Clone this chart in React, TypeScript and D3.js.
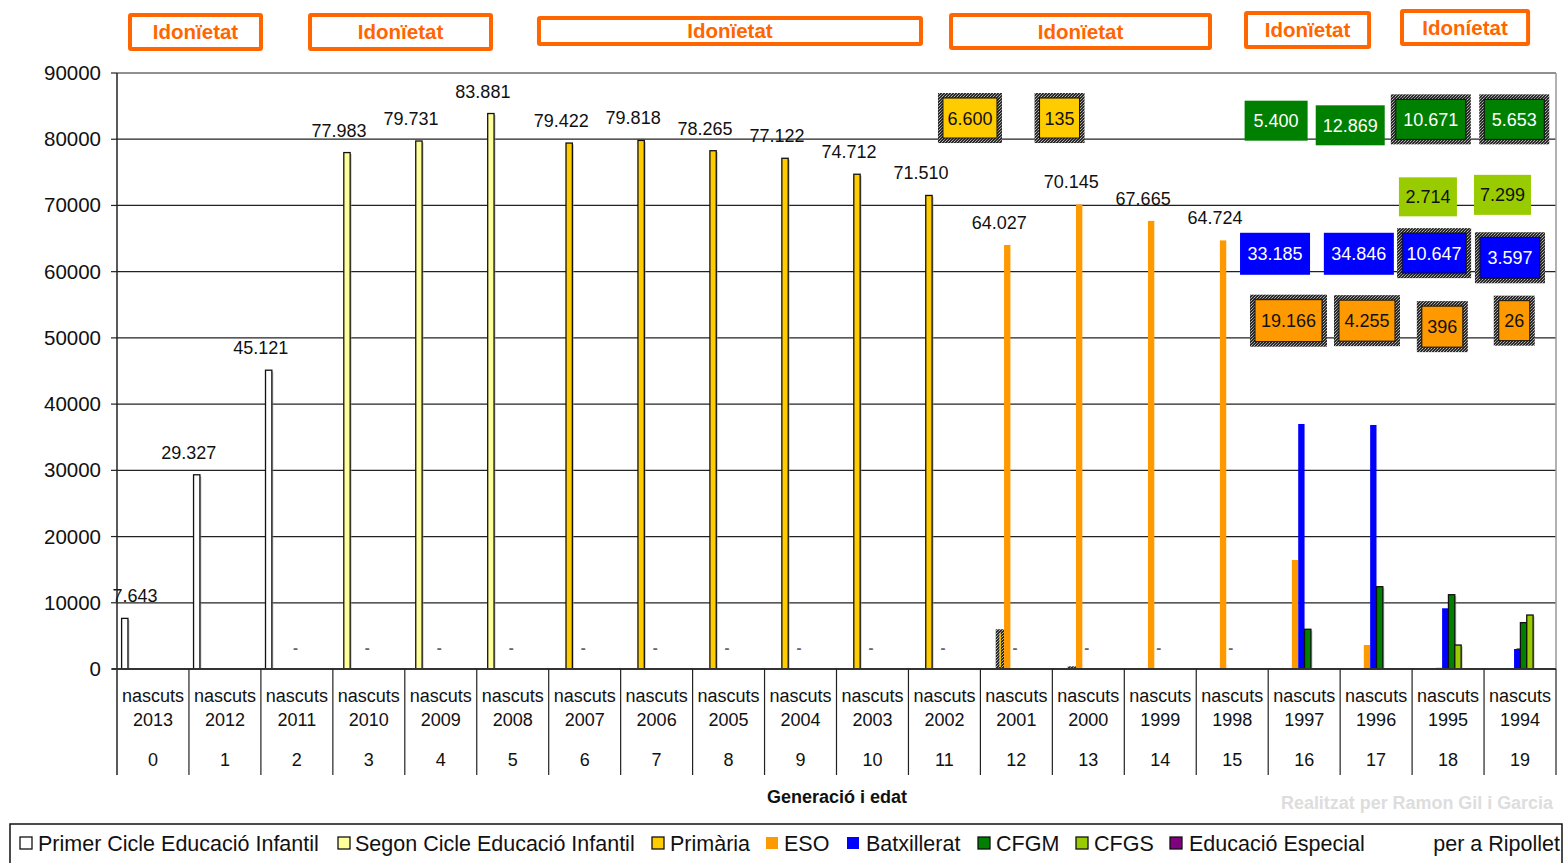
import React from 'react';
import * as d3 from 'd3';

// ---------- DATA ----------
const years = ['2013','2012','2011','2010','2009','2008','2007','2006','2005','2004','2003','2002','2001','2000','1999','1998','1997','1996','1995','1994'];
const ages = ['0','1','2','3','4','5','6','7','8','9','10','11','12','13','14','15','16','17','18','19'];
const seriesNames = ['Primer Cicle Educació Infantil','Segon Cicle Educació Infantil','Primària','ESO','Batxillerat','CFGM','CFGS','Educació Especial'];
const seriesColors = ['#FFFFFF','#FFFF99','#FFCC00','#FF9900','#0000FF','#008000','#99CC00','#800080'];
const seriesBordered = [true,true,true,false,false,true,true,true];

const primerCicle = [7643,29327,45121,0,0,0,0,0,0,0,0,0,0,0,0,0,0,0,0,0];
const segonCicle = [0,0,0,77983,79731,83881,0,0,0,0,0,0,0,0,0,0,0,0,0,0];
const primaria = [0,0,0,0,0,0,79422,79818,78265,77122,74712,71510,6000,400,0,0,0,0,0,0];
const eso = [0,0,0,0,0,0,0,0,0,0,0,0,64027,70145,67665,64724,16460,3620,200,0];
const batxillerat = [0,0,0,0,0,0,0,0,0,0,0,0,0,0,0,0,37000,36850,9170,3020];
const cfgm = [0,0,0,0,0,0,0,0,0,0,0,0,0,0,0,0,6000,12430,11220,7000];
const cfgs = [0,0,0,0,0,0,0,0,0,0,0,0,0,0,0,0,0,0,3620,8150];
const educacioEspecial = [0,0,0,0,0,0,0,0,0,0,0,0,0,0,0,0,0,0,0,0];
const seriesValues = [primerCicle, segonCicle, primaria, eso, batxillerat, cfgm, cfgs, educacioEspecial];

// categories whose Primària bar is drawn with the stippled pattern
const stippledPrimaria = [12, 13];
// categories with a value label above the tallest bar
const labelledCats = d3.range(0, 16);
// categories with a "-" (zero) label
const dashCats = d3.range(2, 20);

// annotation boxes: text, series index, stippled border, position in category units / value units
const boxTexts = ['6.600','135','5.400','12.869','10.671','5.653','2.714','7.299','33.185','34.846','10.647','3.597','19.166','4.255','396','26'];
const boxSeries = [2,2,5,5,5,5,6,6,4,4,4,4,3,3,3,3];
const boxStippled = [true,true,false,false,true,true,false,false,false,false,true,true,true,true,true,true];
const boxCatPos = [11.855,13.1,16.11,17.14,18.26,19.42,18.22,19.256,16.095,17.26,18.306,19.36,16.282,17.373,18.42,19.42];
const boxLevel = [83200,83200,82800,82100,83000,83000,71300,71600,62700,62700,62800,62100,52600,52600,51700,52600];
const boxW = [64,50,63,69,80,70,58,57,70,70,74,70,77,66,51,41];
const boxH = [50,50,40,40,50,50,39,40,42,42,50,51,52,51,51,50];

// "Idonïetat" headers spanning category ranges
const headerTexts = ['Idonïetat','Idonïetat','Idonïetat','Idonïetat','Idonïetat','Idoníetat'];
const headerFrom = [0.153,2.655,5.837,11.564,15.664,17.832];
const headerTo = [2.029,5.226,11.202,15.219,17.43,19.64];
const headerTop = [13,13,16,13,11,9];
const headerBottom = [51,51,46,50,49,46];

const yTicks = [0,10000,20000,30000,40000,50000,60000,70000,80000,90000];

// ---------- CHART ----------
const W = 1564, H = 863;
const FONT = '"Liberation Sans", Arial, sans-serif';

export default function App() {
  const x = d3.scaleBand<number>().domain(d3.range(years.length)).range([117, 1556]).padding(0);
  const bw = x.bandwidth();
  const xc = d3.scaleLinear().domain([0, years.length]).range([117, 1556]);
  const inner = d3.scaleBand<number>().domain(d3.range(seriesNames.length)).range([bw * 0.064, bw * 0.77]);
  const y = d3.scaleLinear().domain([0, 90000]).range([669, 73]);
  const fmt = d3.formatLocale({ decimal: ',', thousands: '.', grouping: [3], currency: ['', ''] }).format(',d');

  const bars: React.ReactNode[] = [];
  seriesValues.forEach((vals, s) => {
    vals.forEach((v, c) => {
      if (v <= 0) return;
      const bx = (x(c) as number) + (inner(s) as number);
      const w = inner.bandwidth();
      const top = y(v);
      const h = y(0) - top;
      const stip = s === 2 && stippledPrimaria.includes(c);
      if (stip) {
        bars.push(<rect key={`b${s}-${c}`} x={bx - 2} y={top} width={w + 2} height={h} fill="url(#stip)" />);
        bars.push(<rect key={`bi${s}-${c}`} x={bx + w / 2 - 1.5} y={top + 4} width={1.5} height={Math.max(0, h - 6)} fill={seriesColors[s]} />);
      } else {
        if (seriesBordered[s]) {
          bars.push(<rect key={`sh${s}-${c}`} x={bx + 1.5} y={top + 1.5} width={w} height={h - 1.5} fill="#999" opacity={0.6} />);
        }
        bars.push(
          <rect key={`b${s}-${c}`} x={bx} y={top} width={w} height={h}
            fill={seriesColors[s]} stroke={seriesBordered[s] ? '#111' : 'none'} strokeWidth={seriesBordered[s] ? 1.3 : 0} />
        );
      }
    });
  });

  const labels = labelledCats.map((c) => {
    let best = 0, bs = 0;
    seriesValues.forEach((vals, s) => { if (vals[c] > best) { best = vals[c]; bs = s; } });
    const cx = Math.max(xc(0) + 18, (x(c) as number) + (inner(bs) as number) + inner.bandwidth() / 2 - 8);
    return (
      <text key={`l${c}`} x={cx} y={y(best) - 16} textAnchor="middle" fontSize={18} fill="#111">{fmt(best)}</text>
    );
  });

  const legendMarkerX = [20, 338, 652, 766, 847, 978, 1076, 1170];
  const legendTextX = [38, 355, 670, 784, 866, 996, 1094, 1189];

  return (
    <svg width={W} height={H} style={{ position: 'absolute', left: 0, top: 0, background: '#fff' }} fontFamily={FONT}>
      <defs>
        <pattern id="stip" width="3" height="3" patternUnits="userSpaceOnUse">
          <rect width="3" height="3" fill="#2a2a2a" />
          <rect x="0" y="0" width="1" height="1" fill="#bbb" />
          <rect x="2" y="1" width="1" height="1" fill="#888" />
          <rect x="1" y="2" width="1" height="1" fill="#aaa" />
        </pattern>
      </defs>
      <rect width={W} height={H} fill="#fff" />

      {/* header boxes */}
      {headerTexts.map((t, i) => {
        const x0 = xc(headerFrom[i]), x1 = xc(headerTo[i]);
        const t0 = headerTop[i], t1 = headerBottom[i];
        return (
          <g key={`h${i}`}>
            <rect x={x0 + 2} y={t0 + 2} width={x1 - x0 - 4} height={t1 - t0 - 4} fill="#fff" stroke="#FF6600" strokeWidth={4} rx={1} />
            <text x={(x0 + x1) / 2} y={(t0 + t1) / 2 + 7} textAnchor="middle" fontSize={20.5} fontWeight="bold" fill="#FF6600">{t}</text>
          </g>
        );
      })}

      {/* gridlines */}
      {yTicks.map((t) => (
        <line key={`g${t}`} x1={117} x2={1556} y1={y(t)} y2={y(t)} stroke="#222" strokeWidth={1.2} />
      ))}
      <line x1={1556} x2={1556} y1={y(90000)} y2={y(0)} stroke="#999" strokeWidth={1.5} />

      {/* y axis */}
      {yTicks.map((t) => (
        <g key={`t${t}`}>
          <line x1={111} x2={117} y1={y(t)} y2={y(t)} stroke="#222" strokeWidth={1.2} />
          <text x={101} y={y(t) + 7} textAnchor="end" fontSize={20.5} fill="#111">{t}</text>
        </g>
      ))}

      {/* dash labels */}
      {dashCats.map((c) => (
        <text key={`d${c}`} x={(x(c) as number) + 34.5} y={y(0) - 16} textAnchor="middle" fontSize={15} fontWeight="bold" fill="#666">-</text>
      ))}

      {bars}
      {labels}

      {/* axes */}
      <line x1={117} x2={117} y1={y(90000)} y2={775} stroke="#222" strokeWidth={1.5} />
      <line x1={112} x2={1556} y1={y(0)} y2={y(0)} stroke="#333" strokeWidth={2} />
      {d3.range(1, years.length + 1).map((c) => (
        <line key={`s${c}`} x1={xc(c)} x2={xc(c)} y1={y(0)} y2={775} stroke="#222" strokeWidth={1.2} />
      ))}
      {years.map((yr, c) => {
        const cx = (x(c) as number) + bw / 2;
        return (
          <g key={`c${c}`} fontSize={18} fill="#111" textAnchor="middle">
            <text x={cx} y={702}>nascuts</text>
            <text x={cx} y={726}>{yr}</text>
            <text x={cx} y={766}>{ages[c]}</text>
          </g>
        );
      })}
      <text x={837} y={803} textAnchor="middle" fontSize={18} fontWeight="bold" fill="#111">Generació i edat</text>
      <text x={1553} y={809} textAnchor="end" fontSize={18} fontWeight="bold" fill="#dddddd" textLength={272} lengthAdjust="spacingAndGlyphs">Realitzat per Ramon Gil i Garcia</text>

      {/* annotation boxes */}
      {boxTexts.map((t, i) => {
        const cx = xc(boxCatPos[i]);
        const cy = y(boxLevel[i]);
        const w = boxW[i], h = boxH[i];
        const s = boxSeries[i];
        const textColor = s === 4 || s === 5 ? '#fff' : '#111';
        return (
          <g key={`bx${i}`}>
            {boxStippled[i] ? (
              <>
                <rect x={cx - w / 2} y={cy - h / 2} width={w} height={h} fill="url(#stip)" />
                <rect x={cx - w / 2 + 5} y={cy - h / 2 + 5} width={w - 10} height={h - 10} fill={seriesColors[s]} stroke="#111" strokeWidth={1} />
              </>
            ) : (
              <rect x={cx - w / 2} y={cy - h / 2} width={w} height={h} fill={seriesColors[s]} />
            )}
            <text x={cx} y={cy + 6.5} textAnchor="middle" fontSize={18} fill={textColor}>{t}</text>
          </g>
        );
      })}

      {/* legend */}
      <rect x={10} y={824} width={1552} height={50} fill="#fff" stroke="#111" strokeWidth={1.5} />
      {seriesNames.map((n, i) => (
        <g key={`lg${i}`}>
          <rect x={legendMarkerX[i]} y={837} width={12} height={12} fill={seriesColors[i]}
            stroke={seriesBordered[i] ? '#111' : 'none'} strokeWidth={1.3} />
          <text x={legendTextX[i]} y={850.5} fontSize={21.5} fill="#111">{n}</text>
        </g>
      ))}
      <text x={1560} y={850.5} textAnchor="end" fontSize={21.5} fill="#111">per a Ripollet</text>
    </svg>
  );
}
